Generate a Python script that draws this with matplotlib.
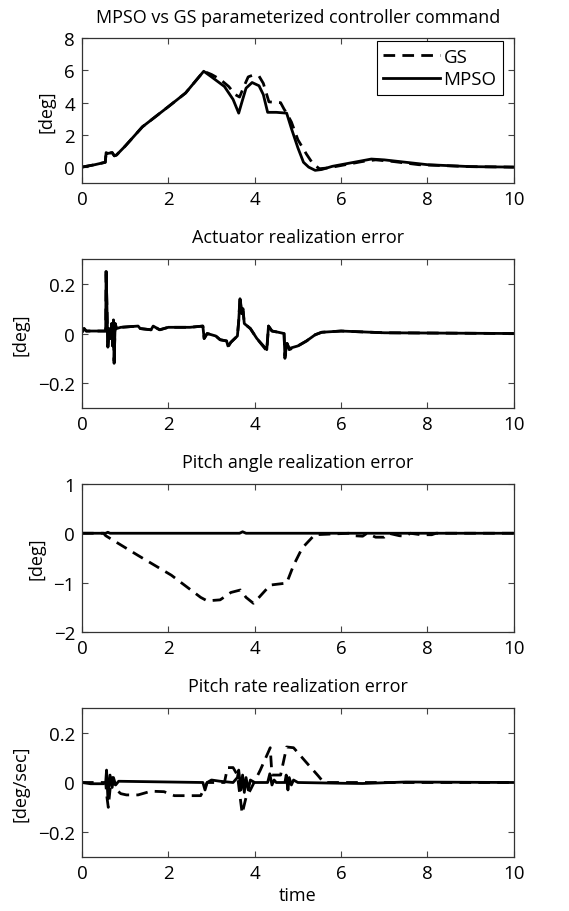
import matplotlib
matplotlib.use('Agg')
import matplotlib.pyplot as plt
from matplotlib.ticker import FuncFormatter

plt.rcParams['font.family'] = ['Open Sans', 'DejaVu Sans']
plt.rcParams['font.size'] = 13

# controller command [deg]
t_cmd_gs = [0, 0.3, 0.54, 0.56, 0.6, 0.7, 0.75, 0.8, 1.0, 1.4, 2.0, 2.4, 2.82, 3.0, 3.2, 3.4,
            3.55, 3.65, 3.75, 3.85, 3.95, 4.1, 4.2, 4.33, 4.6, 4.68, 4.74, 4.85, 5.0, 5.2,
            5.35, 5.5, 5.7, 6.0, 6.5, 6.8, 7.2, 7.8, 9.0, 10]
cmd_gs = [0, 0.15, 0.3, 0.9, 0.85, 0.9, 0.7, 0.75, 1.3, 2.5, 3.75, 4.6, 5.95, 5.75, 5.45, 5.0,
          4.5, 4.35, 5.0, 5.6, 5.7, 5.65, 5.2, 4.05, 4.0, 3.6, 3.35, 2.8, 1.7, 0.8,
          0.2, -0.1, -0.05, 0.1, 0.35, 0.45, 0.35, 0.15, 0.03, 0]

t_cmd_mpso = [0, 0.3, 0.54, 0.56, 0.6, 0.7, 0.75, 0.8, 1.0, 1.4, 2.0, 2.4, 2.82, 3.0, 3.3, 3.5,
              3.63, 3.7, 3.8, 3.94, 4.1, 4.2, 4.3, 4.5, 4.74, 4.85, 5.0, 5.13, 5.25, 5.4, 5.55,
              5.8, 6.2, 6.7, 7.0, 7.5, 8.0, 9.0, 10]
cmd_mpso = [0, 0.15, 0.3, 0.9, 0.85, 0.9, 0.7, 0.75, 1.3, 2.5, 3.75, 4.6, 5.95, 5.6, 5.0, 4.2,
            3.35, 4.0, 4.9, 5.25, 5.05, 4.5, 3.4, 3.4, 3.35, 2.4, 1.2, 0.3, 0.0, -0.2, -0.15,
            0.05, 0.25, 0.5, 0.45, 0.3, 0.15, 0.03, 0]

# actuator realization error [deg]
t_act = [0, 0.05, 0.1, 0.55, 0.56, 0.58, 0.6, 0.63, 0.66, 0.69, 0.71, 0.73, 0.745, 0.77, 0.8,
         0.9, 1.3, 1.35, 1.6, 1.65, 1.8, 2.0, 2.5, 2.8, 2.83, 2.9, 3.1, 3.2, 3.35, 3.38, 3.45,
         3.6, 3.63, 3.66, 3.7, 3.73, 3.76, 3.9, 4.05, 4.28, 4.32, 4.4, 4.55, 4.68, 4.7, 4.75,
         4.8, 5.0, 5.2, 5.4, 5.55, 6.0, 7.0, 10]
act_err_gs = [0.005, 0.02, 0.01, 0.01, 0.26, 0.1, -0.06, 0.02, -0.02, 0.04, -0.05, 0.06, -0.12,
              0.04, 0.02, 0.025, 0.03, 0.02, 0.015, 0.03, 0.015, 0.025, 0.025, 0.03, -0.02, 0.0,
              -0.01, -0.025, -0.03, -0.055, -0.035, -0.01, 0.05, 0.15, 0.08, 0.1, 0.04, 0.02,
              -0.02, -0.07, 0.03, 0.01, 0.005, 0.0, -0.1, -0.04, -0.065, -0.05, -0.03, -0.005,
              0.005, 0.01, 0.003, 0]
act_err_mpso = [0.005, 0.02, 0.01, 0.01, 0.25, 0.1, -0.055, 0.02, -0.02, 0.04, -0.05, 0.055, -0.11,
                0.04, 0.02, 0.025, 0.03, 0.02, 0.015, 0.03, 0.015, 0.025, 0.025, 0.03, -0.02, 0.0,
                -0.01, -0.025, -0.03, -0.05, -0.035, -0.01, 0.05, 0.14, 0.08, 0.09, 0.04, 0.02,
                -0.02, -0.065, 0.03, 0.01, 0.005, 0.0, -0.09, -0.04, -0.06, -0.05, -0.03, -0.005,
                0.005, 0.01, 0.003, 0]

# pitch angle realization error [deg]
t_theta_gs = [0, 0.5, 0.55, 1.3, 2.07, 2.75, 2.9, 3.2, 3.45, 3.67, 3.8, 3.97, 4.1, 4.36, 4.74,
              4.9, 5.1, 5.39, 6.2, 6.3, 6.5, 6.6, 6.8, 7.0, 7.1, 7.35, 7.5, 7.6, 7.85, 8.1, 8.2, 10]
theta_err_gs = [0, 0, -0.05, -0.45, -0.85, -1.3, -1.37, -1.35, -1.2, -1.15, -1.3, -1.42, -1.3,
                -1.05, -1.01, -0.65, -0.3, -0.03, 0, -0.05, -0.06, 0, -0.08, -0.08, 0, -0.05,
                -0.06, 0, -0.03, -0.03, 0, 0]
t_theta_mpso = [0, 0.55, 0.6, 0.65, 3.65, 3.72, 3.8, 10]
theta_err_mpso = [0, 0, 0.02, 0, 0, 0.03, 0, 0]

# pitch rate realization error [deg/sec]
t_q_gs = [0, 0.55, 0.58, 0.61, 0.65, 0.7, 0.8, 0.9, 1.03, 1.3, 1.6, 1.9, 2.14, 2.75, 2.9, 3.3,
          3.37, 3.5, 3.6, 3.71, 3.8, 3.9, 4.13, 4.36, 4.4, 4.6, 4.74, 4.9, 5.2, 5.47, 5.6, 10]
q_err_gs = [0, 0, -0.06, -0.1, -0.03, 0.02, -0.03, -0.045, -0.05, -0.05, -0.035, -0.037, -0.053,
            -0.053, 0.0, 0.0, 0.06, 0.06, 0.03, -0.125, -0.06, -0.03, 0.05, 0.14, 0.03, 0.03,
            0.143, 0.14, 0.08, 0.027, 0.0, 0]
t_q_mpso = [0, 0.2, 0.5, 0.55, 0.57, 0.6, 0.65, 0.7, 0.73, 0.78, 0.85, 2.8, 2.85, 2.9, 3.0, 3.2,
            3.5, 3.6, 3.63, 3.68, 3.72, 3.76, 3.8, 3.85, 3.9, 4.0, 4.3, 4.35, 4.4, 4.45, 4.5,
            4.7, 4.73, 4.77, 4.8, 4.85, 4.9, 5.0, 6.0, 6.5, 7.5, 10]
q_err_mpso = [0, -0.005, -0.005, 0, 0.05, -0.06, 0.03, -0.02, 0.02, -0.01, 0.005, 0, -0.03, 0,
              0.01, 0.005, 0, 0.02, 0.05, -0.03, 0.03, -0.04, 0.02, -0.03, 0.01, 0, 0, 0.035,
              -0.01, 0.01, 0, 0, 0.03, -0.03, 0.02, -0.01, 0.01, 0, -0.003, -0.004, 0.002, 0]

titles = ['MPSO vs GS parameterized controller command', 'Actuator realization error',
          'Pitch angle realization error', 'Pitch rate realization error']
ylabels = ['[deg]', '[deg]', '[deg]', '[deg/sec]']
ylims = [(-1, 8), (-0.3, 0.3), (-2, 1), (-0.3, 0.3)]
yticks = [[0, 2, 4, 6, 8], [-0.2, 0, 0.2], [-2, -1, 0, 1], [-0.2, 0, 0.2]]
xticks = [0, 2, 4, 6, 8, 10]

series = [((t_cmd_gs, cmd_gs), (t_cmd_mpso, cmd_mpso)),
          ((t_act, act_err_gs), (t_act, act_err_mpso)),
          ((t_theta_gs, theta_err_gs), (t_theta_mpso, theta_err_mpso)),
          ((t_q_gs, q_err_gs), (t_q_mpso, q_err_mpso))]

# axes boxes in figure fractions: left, bottom, width, height
boxes = [[0.144, 0.798, 0.759, 0.159],
         [0.144, 0.5515, 0.759, 0.1634],
         [0.144, 0.306, 0.759, 0.1623],
         [0.144, 0.0592, 0.759, 0.1634]]

fmt = FuncFormatter(lambda v, p: ('%g' % v).replace('-', '\u2212'))

fig = plt.figure(figsize=(5.69, 9.12), dpi=100)
for i in range(4):
    ax = fig.add_axes(boxes[i])
    (tg, yg), (tm, ym) = series[i]
    ax.plot(tg, yg, color='black', lw=2.0, linestyle=(0, (4.2, 2.6)), label='GS')
    ax.plot(tm, ym, color='black', lw=2.0, label='MPSO')
    ax.set_xlim(0, 10)
    ax.set_ylim(*ylims[i])
    ax.set_xticks(xticks)
    ax.set_yticks(yticks[i])
    ax.xaxis.set_major_formatter(fmt)
    ax.yaxis.set_major_formatter(fmt)
    ax.tick_params(direction='in', top=True, right=True, length=4, width=0.8,
                   color='#444444', labelsize=13.5, pad=5)
    for s in ax.spines.values():
        s.set_linewidth(0.9)
        s.set_color('#333333')
    ax.set_title(titles[i], fontsize=13, pad=12)
    ax.set_ylabel(ylabels[i], fontsize=13, labelpad=6)
    if i == 0:
        leg = ax.legend(loc='upper right', bbox_to_anchor=(0.975, 0.98), borderaxespad=0,
                        fontsize=13.5, handlelength=3.0, fancybox=False, framealpha=1,
                        borderpad=0.35, labelspacing=0.25, handletextpad=0.2)
        leg.get_frame().set_edgecolor('black')
        leg.get_frame().set_linewidth(0.8)
    if i == 3:
        ax.set_xlabel('time', fontsize=13, labelpad=3)

fig.savefig('out.png', dpi=100)
